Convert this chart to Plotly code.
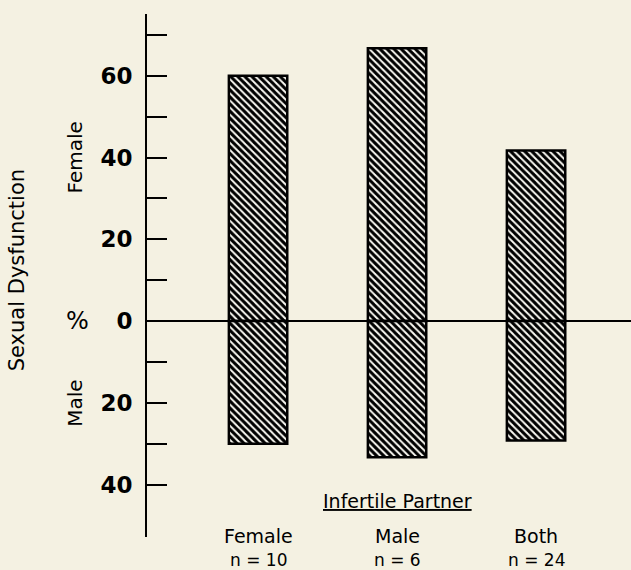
import plotly.graph_objects as go

categories = ["Female", "Male", "Both"]
n_values = [10, 6, 24]
female_dysfunction = [60, 66.7, 41.7]
male_dysfunction = [30, 33.3, 29.2]

tick_vals = [-40, -30, -20, -10, 0, 10, 20, 30, 40, 50, 60, 70]
tick_text = ["40", "", "20", "", "0", "", "20", "", "40", "", "60", ""]

PAGE = "#f4f1e2"
FONT = "DejaVu Sans, Liberation Sans, Arial, sans-serif"

pattern = dict(shape="\\", fgcolor="black", fgopacity=1, bgcolor="#fbfaf3",
               size=5, solidity=0.6)

fig = go.Figure()
fig.add_trace(go.Bar(x=categories, y=female_dysfunction, width=0.42,
                     marker=dict(color="#fbfaf3", pattern=pattern,
                                 line=dict(color="black", width=2.5)),
                     showlegend=False, hoverinfo="skip"))
fig.add_trace(go.Bar(x=categories, y=[-v for v in male_dysfunction], width=0.42,
                     marker=dict(color="#fbfaf3", pattern=pattern,
                                 line=dict(color="black", width=2.5)),
                     showlegend=False, hoverinfo="skip"))

fig.update_layout(
    width=631, height=570,
    margin=dict(l=147, r=0, t=14, b=33),
    paper_bgcolor=PAGE, plot_bgcolor=PAGE,
    barmode="relative",
    font=dict(family=FONT, color="black"),
    xaxis=dict(type="category", range=[-0.799, 2.683], showticklabels=False,
               showgrid=False, zeroline=False, showline=False, ticks=""),
    yaxis=dict(range=[-52.8, 75.1], tickmode="array", tickvals=tick_vals,
               ticktext=tick_text, ticks="inside", ticklen=20, tickwidth=2,
               tickcolor="black", showline=True, linecolor="black", linewidth=2,
               showgrid=False, zeroline=True, zerolinecolor="black",
               zerolinewidth=2, ticklabelstandoff=8,
               tickfont=dict(size=23, weight="bold", family=FONT)),
)

annotations = []
for cat, n in zip(categories, n_values):
    annotations.append(dict(x=cat, y=0.002, xref="x", yref="paper", text=cat,
                            showarrow=False, yanchor="middle",
                            font=dict(size=19, family=FONT)))
    annotations.append(dict(x=cat, y=-0.044, xref="x", yref="paper",
                            text=f"n = {n}", showarrow=False, yanchor="middle",
                            font=dict(size=17, family=FONT)))
annotations.append(dict(x=1, y=0.068, xref="x", yref="paper",
                        text="<u>Infertile Partner</u>", showarrow=False,
                        yanchor="middle", font=dict(size=19, family=FONT)))
annotations.append(dict(x=-0.2686, y=0.51, xref="paper", yref="paper",
                        text="Sexual Dysfunction", textangle=-90, showarrow=False,
                        xanchor="center", yanchor="middle",
                        font=dict(size=21, family=FONT)))
annotations.append(dict(x=-0.149, y=40, xref="paper", yref="y", text="Female",
                        textangle=-90, showarrow=False, xanchor="center",
                        yanchor="middle", font=dict(size=20, family=FONT)))
annotations.append(dict(x=-0.149, y=-20, xref="paper", yref="y", text="Male",
                        textangle=-90, showarrow=False, xanchor="center",
                        yanchor="middle", font=dict(size=20, family=FONT)))
annotations.append(dict(x=-0.143, y=0, xref="paper", yref="y", text="%",
                        showarrow=False, xanchor="center", yanchor="middle",
                        font=dict(size=24, family=FONT)))
fig.update_layout(annotations=annotations)

fig.write_html("out.html", config={"displayModeBar": False},
               post_script="document.body.style.margin='0';document.body.style.overflow='hidden';")
